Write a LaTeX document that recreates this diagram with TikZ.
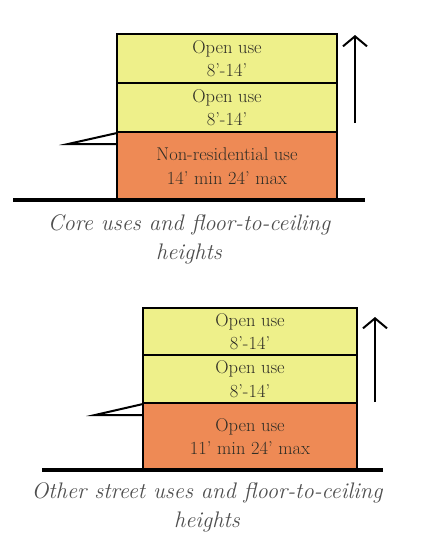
\documentclass[tikz,border=0pt]{standalone}
\usepackage{fontspec}
\usetikzlibrary{positioning,arrows.meta}

\definecolor{openyellow}{HTML}{EEF08A}
\definecolor{baseorange}{HTML}{EE8A55}
\definecolor{inktext}{HTML}{302E26}
\definecolor{captiongray}{HTML}{4E4E4E}

\begin{document}
\begin{tikzpicture}[x=1pt, y=-1pt,
    every node/.style={text=inktext, align=center},
    floorbox/.style={draw=black, line width=2.5pt, inner sep=0pt, outer sep=0pt,
        font=\fontsize{18.5}{23.5}\selectfont},
    upper/.style={floorbox, fill=openyellow},
    street/.style={floorbox, fill=baseorange},
    caption/.style={text=captiongray, font=\fontsize{22.5}{29}\selectfont\itshape},
    ground/.style={line width=4pt},
    awning/.style={line width=2pt},
    growth/.style={line width=2pt, -{Straight Barb[width=24pt, length=10pt]}}]
    \useasboundingbox (0,0) rectangle (431,550);

    % core uses
    \node[upper, minimum width=220pt, minimum height=49pt, anchor=north west]
        (coretop) at (117,34) {Open use\\8'-14'};
    \node[upper, minimum width=220pt, minimum height=49pt, below=0pt of coretop]
        (coremid) {Open use\\8'-14'};
    \node[street, minimum width=220pt, minimum height=68pt, below=0pt of coremid]
        (corebase) {Non-residential use\\14' min 24' max};
    \draw[ground] ([xshift=-104pt]corebase.south west) -- ([xshift=28pt]corebase.south east);
    \draw[awning] ([yshift=-1pt]corebase.north west) -- ++(-49,11) -- ([yshift=-12pt]corebase.north west);
    \coordinate (corefoot) at ([xshift=18pt]coremid.south east);
    \coordinate (corehead) at ([xshift=18pt]coretop.north east);
    \draw[growth] ([yshift=9pt]corefoot) -- ([yshift=-1pt]corehead);
    \node[caption] (corecap) at (189,239) {Core uses and floor-to-ceiling\\heights};

    % other street uses
    \node[upper, minimum width=214pt, minimum height=47pt, anchor=north west]
        (othertop) at (143,308) {Open use\\8'-14'};
    \node[upper, minimum width=214pt, minimum height=48pt, below=0pt of othertop]
        (othermid) {Open use\\8'-14'};
    \node[street, minimum width=214pt, minimum height=67pt, below=0pt of othermid]
        (otherbase) {Open use\\11' min 24' max};
    \draw[ground] ([xshift=-101pt]otherbase.south west) -- ([xshift=26pt]otherbase.south east);
    \draw[awning] ([yshift=-1pt]otherbase.north west) -- ++(-48,11) -- ([yshift=-12pt]otherbase.north west);
    \coordinate (otherfoot) at ([xshift=18pt]othermid.south east);
    \coordinate (otherhead) at ([xshift=18pt]othertop.north east);
    \draw[growth] ([yshift=1pt]otherfoot) -- ([yshift=-9pt]otherhead);
    \node[caption] (othercap) at (207,507) {Other street uses and floor-to-ceiling\\heights};
\end{tikzpicture}
\end{document}
